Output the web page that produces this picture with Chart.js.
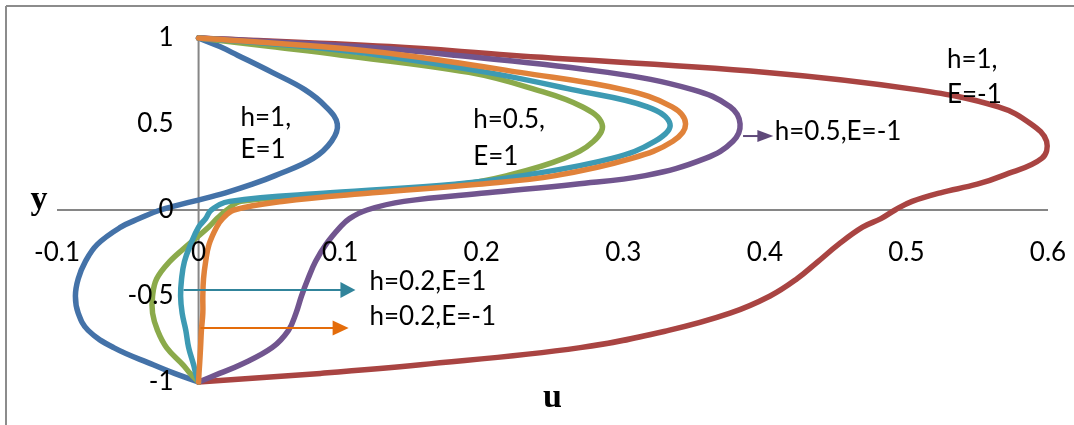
<!DOCTYPE html>
<html>
<head>
<meta charset="utf-8">
<script src="https://cdn.jsdelivr.net/npm/chart.js@4.4.0/dist/chart.umd.min.js"></script>
<style>
    html, body { margin: 0; padding: 0; background: #fff; }
    #grafico { display: block; }
</style>
</head>
<body>
<canvas id="grafico" width="1074" height="425"></canvas>
<script>
// ===================== DADOS =====================
const yValores = [1, 0.95, 0.9, 0.8, 0.7, 0.6, 0.5, 0.4, 0.3, 0.2, 0.15, 0.1, 0.05, 0,
    -0.05, -0.1, -0.2, -0.3, -0.4, -0.5, -0.6, -0.7, -0.8, -0.9, -0.95, -1];

const uH1E1 = [0, 0.015, 0.0275, 0.052, 0.075, 0.090, 0.098, 0.094, 0.081, 0.054, 0.038, 0.019, -0.004, -0.027,
    -0.042, -0.055, -0.0715, -0.080, -0.085, -0.087, -0.085, -0.078, -0.060, -0.032, -0.017, 0];
const uH1Em1 = [0, 0.135, 0.220, 0.4015, 0.507, 0.565, 0.588, 0.599, 0.5956, 0.568, 0.550, 0.524, 0.504, 0.492,
    0.482, 0.469, 0.452, 0.4375, 0.4227, 0.4037, 0.3754, 0.332, 0.2696, 0.1567, 0.086, 0];
const uH05E1 = [0, 0.051, 0.101, 0.191, 0.238, 0.271, 0.285, 0.279, 0.258, 0.218, 0.185, 0.104, 0.030, 0.020,
    0.013, 0.007, -0.007, -0.0205, -0.0296, -0.0325, -0.0325, -0.029, -0.0226, -0.011, -0.006, 0];
const uH05Em1 = [0, 0.113, 0.181, 0.289, 0.349, 0.3755, 0.3825, 0.3775, 0.358, 0.3155, 0.266, 0.204, 0.145, 0.119,
    0.1066, 0.100, 0.090, 0.0826, 0.0773, 0.0727, 0.0688, 0.0635, 0.052, 0.0296, 0.0148, 0];
const uH02E1 = [0, 0.075, 0.128, 0.204, 0.264, 0.317, 0.333, 0.3225, 0.292, 0.229, 0.181, 0.093, 0.022, 0.009,
    0.005, 0, -0.0056, -0.010, -0.012, -0.0127, -0.0116, -0.009, -0.007, -0.0035, -0.002, 0];
const uH02Em1 = [0, 0.086, 0.145, 0.227, 0.300, 0.3345, 0.344, 0.335, 0.306, 0.252, 0.1976, 0.123, 0.059, 0.025,
    0.017, 0.0127, 0.0074, 0.005, 0.0035, 0.003, 0.003, 0.002, 0.0014, 0.0007, 0.0003, 0];

const xTicks = [-0.1, 0, 0.1, 0.2, 0.3, 0.4, 0.5, 0.6];
const yTicks = [1, 0.5, 0, -0.5, -1];

// textos e setas (coordenadas em unidades dos eixos)
const rotulos = [
    { texto: "h=1,", u: 0.0296, y: 0.54 },
    { texto: "E=1", u: 0.0296, y: 0.35 },
    { texto: "h=0.5,", u: 0.194, y: 0.523 },
    { texto: "E=1", u: 0.194, y: 0.308 },
    { texto: "h=0.5,E=-1", u: 0.407, y: 0.453 },
    { texto: "h=1,", u: 0.5286, y: 0.872 },
    { texto: "E=-1", u: 0.5286, y: 0.669 },
    { texto: "h=0.2,E=1", u: 0.1207, y: -0.419 },
    { texto: "h=0.2,E=-1", u: 0.1207, y: -0.622 }
];
const setas = [
    { de: -0.0106, ate: 0.1108, y: -0.465, cor: "#31849B", ponta: 15, meia: 8 },
    { de: 0.0014, ate: 0.106, y: -0.686, cor: "#E46C0A", ponta: 16, meia: 7.5 },
    { de: 0.3846, ate: 0.406, y: 0.430, cor: "#5F497A", ponta: 16, meia: 6 }
];

function pontos(us) {
    return us.map((u, i) => ({ x: u, y: yValores[i] }));
}

function serie(us, cor) {
    return {
        data: pontos(us),
        borderColor: cor,
        backgroundColor: cor,
        borderWidth: 5.5,
        borderCapStyle: "round",
        borderJoinStyle: "round",
        pointRadius: 0,
        fill: false,
        tension: 0.4,
        clip: false
    };
}

// ===================== PLUGIN DE DESENHO =====================
const FONTE = "26px Lato";

const eixosPlugin = {
    id: "eixos",
    beforeDraw(chart) {
        const ctx = chart.ctx;
        ctx.save();
        ctx.fillStyle = "#fff";
        ctx.fillRect(0, 0, chart.width, chart.height);
        ctx.strokeStyle = "#8c8c8c";
        ctx.lineWidth = 2;
        ctx.beginPath();
        ctx.moveTo(6, 6); ctx.lineTo(chart.width, 6);
        ctx.moveTo(6, 6); ctx.lineTo(6, chart.height);
        ctx.stroke();
        ctx.restore();
    },
    beforeDatasetsDraw(chart) {
        const ctx = chart.ctx;
        const sx = chart.scales.x, sy = chart.scales.y;
        ctx.save();
        ctx.strokeStyle = "#868686";
        ctx.lineWidth = 2;
        ctx.beginPath();
        ctx.moveTo(sx.getPixelForValue(sx.min), sy.getPixelForValue(0));
        ctx.lineTo(sx.getPixelForValue(sx.max), sy.getPixelForValue(0));
        ctx.moveTo(sx.getPixelForValue(0), sy.getPixelForValue(sy.min));
        ctx.lineTo(sx.getPixelForValue(0), sy.getPixelForValue(sy.max));
        ctx.stroke();
        ctx.restore();
    },
    afterDatasetsDraw(chart) {
        const ctx = chart.ctx;
        const sx = chart.scales.x, sy = chart.scales.y;
        const x0 = sx.getPixelForValue(0), y0 = sy.getPixelForValue(0);
        ctx.save();
        ctx.fillStyle = "#000";
        ctx.font = FONTE;
        ctx.textBaseline = "middle";

        // ticks
        ctx.textAlign = "center";
        xTicks.forEach(t => ctx.fillText(String(t), sx.getPixelForValue(t), y0 + 43));
        ctx.textAlign = "right";
        yTicks.forEach(t => ctx.fillText(String(t), x0 - 25, sy.getPixelForValue(t)));

        // rótulos
        ctx.textAlign = "left";
        rotulos.forEach(r => ctx.fillText(r.texto, sx.getPixelForValue(r.u), sy.getPixelForValue(r.y)));

        // setas
        setas.forEach(s => {
            const xa = sx.getPixelForValue(s.de), xb = sx.getPixelForValue(s.ate);
            const yy = sy.getPixelForValue(s.y);
            ctx.strokeStyle = s.cor;
            ctx.fillStyle = s.cor;
            ctx.lineWidth = 2;
            ctx.beginPath();
            ctx.moveTo(xa, yy); ctx.lineTo(xb - s.ponta + 2, yy);
            ctx.stroke();
            ctx.beginPath();
            ctx.moveTo(xb, yy);
            ctx.lineTo(xb - s.ponta, yy - s.meia);
            ctx.lineTo(xb - s.ponta, yy + s.meia);
            ctx.closePath();
            ctx.fill();
        });

        // títulos dos eixos
        ctx.fillStyle = "#000";
        ctx.font = "bold 34px 'Liberation Serif'";
        ctx.textAlign = "center";
        ctx.fillText("y", 39, y0 - 10);
        ctx.fillText("u", sx.getPixelForValue(0.25), sy.getPixelForValue(-1) + 16);
        ctx.restore();
    }
};

// ===================== GRÁFICO =====================
const ctxGrafico = document.getElementById("grafico").getContext("2d");
new Chart(ctxGrafico, {
    type: "line",
    data: {
        datasets: [
            serie(uH02Em1, "#E0823A"),
            serie(uH02E1, "#3D9AB3"),
            serie(uH05Em1, "#71558F"),
            serie(uH05E1, "#8BAA4B"),
            serie(uH1Em1, "#A94442"),
            serie(uH1E1, "#4472A8")
        ]
    },
    options: {
        indexAxis: "y",
        responsive: false,
        animation: false,
        devicePixelRatio: 1,
        layout: { padding: { left: 57, top: 38, right: 26, bottom: 43 } },
        plugins: {
            legend: { display: false },
            tooltip: { enabled: false }
        },
        scales: {
            x: { type: "linear", min: -0.1, max: 0.6, display: false },
            y: { type: "linear", min: -1, max: 1, display: false }
        }
    },
    plugins: [eixosPlugin]
});
</script>
</body>
</html>
